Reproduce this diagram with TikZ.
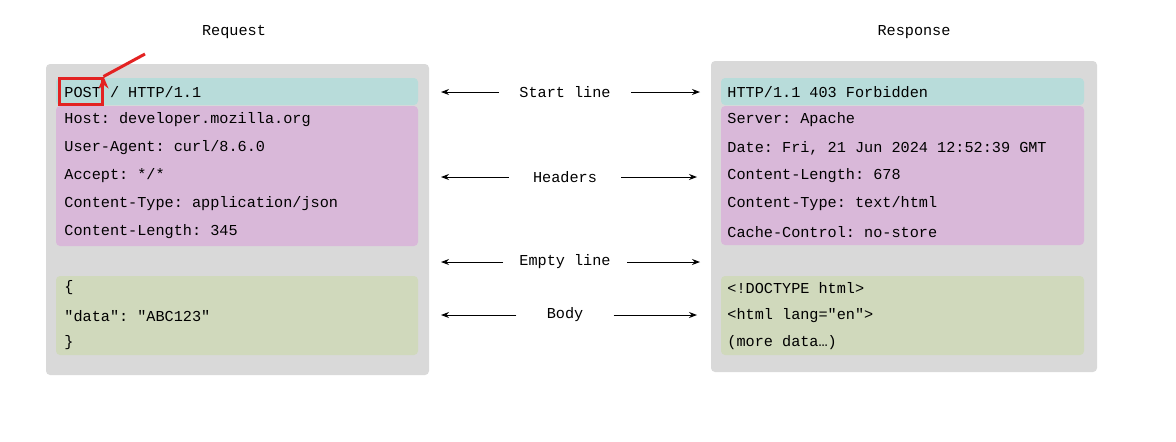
\documentclass[tikz,border=0pt]{standalone}
\usepackage{fontspec}
\setmonofont{Liberation Mono}
\usetikzlibrary{arrows.meta}
\definecolor{boxgray}{HTML}{D9D9D9}
\definecolor{teal1}{HTML}{B8DCDA}
\definecolor{pink1}{HTML}{D9B8D9}
\definecolor{green1}{HTML}{D0D9BC}
\definecolor{red1}{HTML}{E32222}
\begin{document}
\begin{tikzpicture}[x=0.5pt,y=-0.5pt,
  txt/.style={font=\ttfamily\fontsize{7.6pt}{9pt}\selectfont,anchor=west,inner sep=0pt},
  lbl/.style={font=\ttfamily\fontsize{7.6pt}{9pt}\selectfont,inner sep=0pt},
  arr/.style={-{Stealth[length=4pt,width=3pt]},line width=0.5pt},
  band/.style={rounded corners=2pt}]
\useasboundingbox (0,0) rectangle (1176,441);
% boxes
\fill[boxgray,rounded corners=2pt] (46,64) rectangle (429,375);
\fill[boxgray,rounded corners=2pt] (711,61) rectangle (1097,372);
\fill[teal1,band] (56,78) rectangle (418,105);
\fill[pink1,band] (56,106) rectangle (418,246);
\fill[green1,band] (56,276) rectangle (418,355);
\fill[teal1,band] (721,78) rectangle (1084,105);
\fill[pink1,band] (721,106) rectangle (1084,245);
\fill[green1,band] (721,276) rectangle (1084,355);
% titles
\node[lbl] (req) at (234,32) {Request};
\node[lbl] (resp) at (914,32) {Response};
% left text
\node[txt] (l1) at (64,92) {POST / HTTP/1.1};
\node[txt] (l2) at (64,120) {Host: developer.mozilla.org};
\node[txt] (l3) at (64,148) {User-Agent: curl/8.6.0};
\node[txt] (l4) at (64,176) {Accept: */*};
\node[txt] (l5) at (64,204) {Content-Type: application/json};
\node[txt] (l6) at (64,232) {Content-Length: 345};
\node[txt] (l7) at (64,288) {\{};
\node[txt] (l8) at (64,316) {"data": "ABC123"};
\node[txt] (l9) at (64,343) {\}};
% right text
\node[txt] (r1) at (727,92) {HTTP/1.1 403 Forbidden};
\node[txt] (r2) at (727,120) {Server: Apache};
\node[txt] (r3) at (727,148) {Date: Fri, 21 Jun 2024 12:52:39 GMT};
\node[txt] (r4) at (727,176) {Content-Length: 678};
\node[txt] (r5) at (727,204) {Content-Type: text/html};
\node[txt] (r6) at (727,232) {Cache-Control: no-store};
\node[txt] (r7) at (727,288) {<!DOCTYPE html>};
\node[txt] (r8) at (727,316) {<html lang="en">};
\node[txt] (r9) at (727,343) {(more data…)};
% red highlight
\node[draw=red1,line width=1.5pt,minimum width=43pt*0.5,minimum height=26pt*0.5,inner sep=0pt] (post) at (80.5,91) {};
\coordinate (rs) at (145,54);
\draw[red1,line width=1.5pt,-{Stealth[length=6pt,width=5pt]}] (rs) -- (post.north east) ++(0,0);
% middle labels
\node[lbl] (m1) at (565,92) {Start line};
\node[lbl] (m2) at (565,177) {Headers};
\node[lbl] (m3) at (565,262) {Empty line};
\node[lbl] (m4) at (565,315) {Body};
\coordinate (a1l) at (441,92); \coordinate (a1r) at (700,92);
\coordinate (a2l) at (441,177); \coordinate (a2r) at (697,177);
\coordinate (a3l) at (441,262); \coordinate (a3r) at (700,262);
\coordinate (a4l) at (441,315); \coordinate (a4r) at (697,315);
\draw[arr] ([xshift=-10pt]m1.west) -- (a1l);
\draw[arr] ([xshift=10pt]m1.east) -- (a1r);
\draw[arr] ([xshift=-12pt]m2.west) -- (a2l);
\draw[arr] ([xshift=12pt]m2.east) -- (a2r);
\draw[arr] ([xshift=-8pt]m3.west) -- (a3l);
\draw[arr] ([xshift=8pt]m3.east) -- (a3r);
\draw[arr] ([xshift=-15pt]m4.west) -- (a4l);
\draw[arr] ([xshift=15pt]m4.east) -- (a4r);
\end{tikzpicture}
\end{document}
